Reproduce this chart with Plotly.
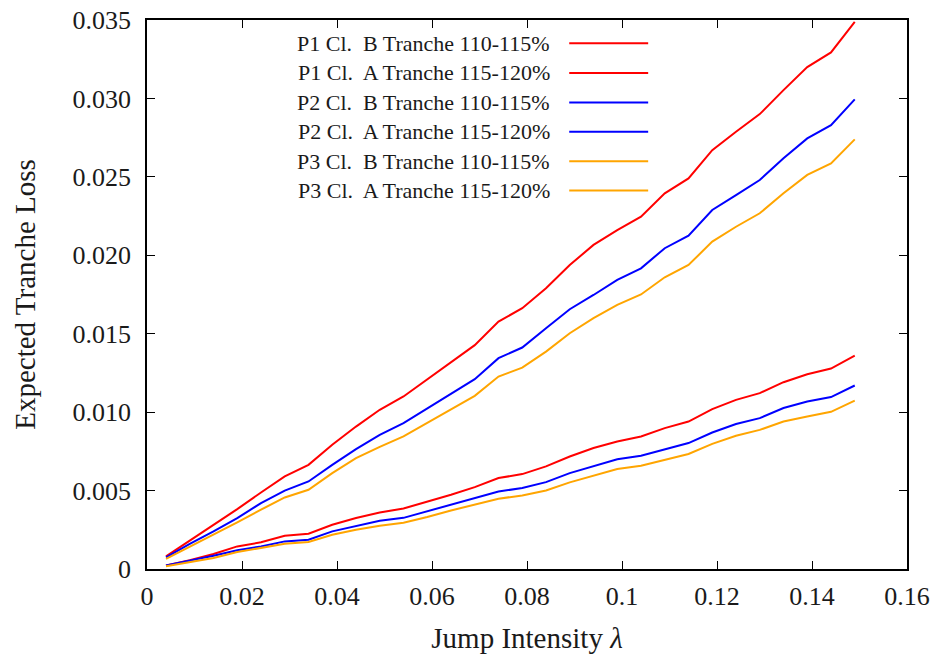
import plotly.graph_objects as go

# Jump intensity values (x)
jump = [0.004, 0.009, 0.014, 0.019, 0.024, 0.029, 0.034, 0.039, 0.044, 0.049,
        0.054, 0.059, 0.064, 0.069, 0.074, 0.079, 0.084, 0.089, 0.094, 0.099,
        0.104, 0.109, 0.114, 0.119, 0.124, 0.129, 0.134, 0.139, 0.144, 0.149]

p1_b = [0.0008, 0.0018, 0.00282, 0.00382, 0.00488, 0.0059, 0.00664, 0.00792, 0.00908, 0.01015,
        0.0110, 0.0121, 0.0132, 0.01427, 0.01577, 0.01663, 0.0179, 0.01938, 0.02066, 0.0216,
        0.02246, 0.02395, 0.0249, 0.0267, 0.02788, 0.0290, 0.03053, 0.0320, 0.03293, 0.03488]
p1_a = [0.00023, 0.00056, 0.00096, 0.00144, 0.0017, 0.00212, 0.00225, 0.00282, 0.00325, 0.0036,
        0.00386, 0.0043, 0.00473, 0.00522, 0.0058, 0.00605, 0.00654, 0.00717, 0.00771, 0.00813,
        0.00845, 0.00898, 0.0094, 0.01019, 0.01078, 0.01121, 0.01191, 0.01242, 0.01278, 0.0136]
p2_b = [0.00074, 0.0016, 0.0024, 0.00325, 0.0042, 0.0050, 0.00558, 0.00664, 0.00764, 0.00855,
        0.0093, 0.01023, 0.01117, 0.0121, 0.01344, 0.01412, 0.01535, 0.01656, 0.01747, 0.01843,
        0.01917, 0.02045, 0.02125, 0.02289, 0.02384, 0.0248, 0.02618, 0.02745, 0.0283, 0.02994]
p2_a = [0.00023, 0.00052, 0.00085, 0.00119, 0.00144, 0.00176, 0.00187, 0.0024, 0.00276, 0.00308,
        0.00326, 0.00367, 0.0041, 0.00452, 0.00494, 0.00516, 0.00554, 0.00611, 0.00658, 0.0070,
        0.00722, 0.00764, 0.00803, 0.0087, 0.00924, 0.00962, 0.01026, 0.01068, 0.01096, 0.0117]
p3_b = [0.00064, 0.0014, 0.00218, 0.00297, 0.00378, 0.00456, 0.00505, 0.00611, 0.00707, 0.00779,
        0.00845, 0.00931, 0.01018, 0.01104, 0.01227, 0.01284, 0.01386, 0.01503, 0.01599, 0.01684,
        0.0175, 0.0186, 0.01938, 0.02087, 0.02182, 0.02268, 0.02395, 0.02512, 0.02586, 0.02739]
p3_a = [0.00017, 0.00044, 0.0007, 0.00108, 0.00134, 0.00161, 0.00172, 0.00218, 0.0025, 0.00276,
        0.00295, 0.00331, 0.00373, 0.0041, 0.00448, 0.00469, 0.005, 0.00552, 0.00594, 0.00637,
        0.00658, 0.00696, 0.00733, 0.00798, 0.00849, 0.00887, 0.0094, 0.00972, 0.01002, 0.01074]

series_names = ["P1 Cl.&nbsp; B Tranche 110-115%", "P1 Cl.&nbsp; A Tranche 115-120%",
                "P2 Cl.&nbsp; B Tranche 110-115%", "P2 Cl.&nbsp; A Tranche 115-120%",
                "P3 Cl.&nbsp; B Tranche 110-115%", "P3 Cl.&nbsp; A Tranche 115-120%"]
series_vals = [p1_b, p1_a, p2_b, p2_a, p3_b, p3_a]
series_colors = ["#ff0000", "#ff0000", "#0000ff", "#0000ff", "#ffa500", "#ffa500"]

x_tickvals = [0, 0.02, 0.04, 0.06, 0.08, 0.1, 0.12, 0.14, 0.16]
x_ticktext = ["0", "0.02", "0.04", "0.06", "0.08", "0.1", "0.12", "0.14", "0.16"]
y_tickvals = [0, 0.005, 0.01, 0.015, 0.02, 0.025, 0.03, 0.035]
y_ticktext = ["0", "0.005", "0.010", "0.015", "0.020", "0.025", "0.030", "0.035"]

FONT = "Liberation Serif"
TXT = "#1a1a1a"

FW, FH = 939, 661
L, R, T, B = 146.5, 907.0, 20.0, 569.3
W, H = R - L, B - T

fig = go.Figure()
for name, vals, col in zip(series_names, series_vals, series_colors):
    fig.add_trace(go.Scatter(x=jump, y=vals, mode="lines", name=name,
                             line=dict(color=col, width=2), showlegend=False))

# gnuplot-style key: text right-aligned, line sample to its right
row_y = [43.3, 73.0, 102.5, 131.8, 161.3, 190.5]
for name, col, py in zip(series_names, series_colors, row_y):
    yp = (B - py) / H
    fig.add_annotation(x=(552 - L) / W, y=yp, xref="paper", yref="paper",
                       text=name, showarrow=False, xanchor="right", yanchor="middle",
                       font=dict(family=FONT, size=22, color=TXT))
    fig.add_shape(type="line", xref="paper", yref="paper",
                  x0=(569 - L) / W, x1=(648 - L) / W, y0=yp, y1=yp,
                  line=dict(color=col, width=2))

axis_common = dict(showgrid=False, zeroline=False, showline=True, linecolor="black",
                   linewidth=1.5, mirror="allticks", ticks="inside", ticklen=8,
                   tickwidth=1.2, tickcolor="black", automargin=False,
                   ticklabeloverflow="allow",
                   tickfont=dict(family=FONT, size=26, color=TXT))

fig.update_layout(
    width=FW, height=FH,
    margin=dict(l=L, r=FW - R, t=T, b=FH - B),
    paper_bgcolor="white", plot_bgcolor="white",
    xaxis=dict(range=[0, 0.16], tickvals=x_tickvals, ticktext=x_ticktext,
               ticklabelstandoff=3,
               title=dict(text="Jump Intensity <i>λ</i>", standoff=18,
                          font=dict(family=FONT, size=29, color=TXT)),
               **axis_common),
    yaxis=dict(range=[0, 0.035], tickvals=y_tickvals, ticktext=y_ticktext,
               ticklabelstandoff=9,
               title=dict(text="Expected Tranche Loss", standoff=28,
                          font=dict(family=FONT, size=29, color=TXT)),
               **axis_common),
)

# remove the default 8px body margin so the figure fills the window exactly
fig.write_html("out.html", config={"displayModeBar": False},
               post_script="document.body.style.margin='0px';document.body.style.overflow='hidden';")
